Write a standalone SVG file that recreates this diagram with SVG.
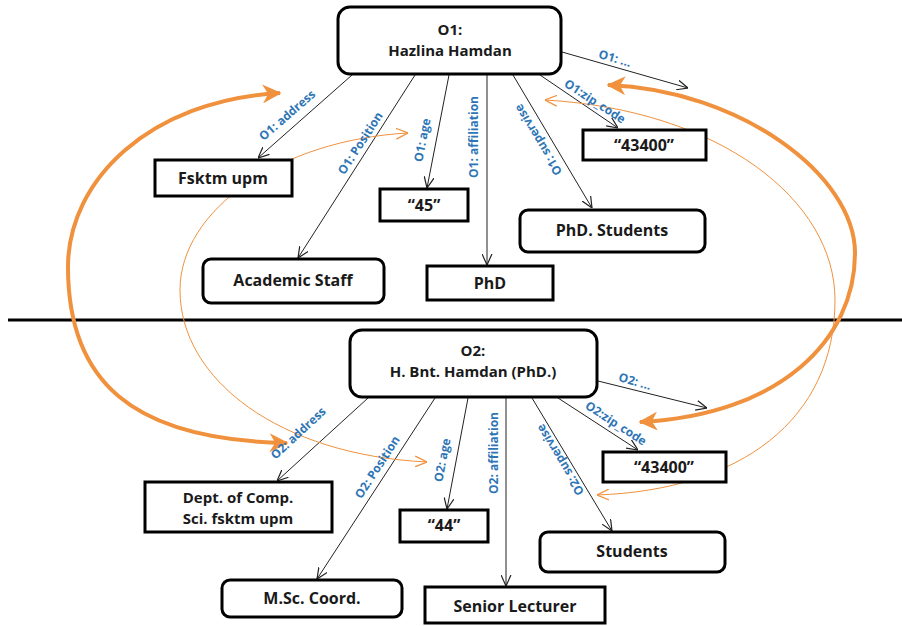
<svg xmlns="http://www.w3.org/2000/svg" width="902" height="626" viewBox="0 0 902 626">
<style>
.box{fill:#fff;stroke:#000;stroke-width:3}
.t{font-family:"Open Sans",Lato,"Liberation Sans",sans-serif;font-weight:bold;font-size:16px;fill:#1a1a1a;text-anchor:middle}
.t2{font-size:15px}
.lbl{font-family:"Open Sans",Lato,"Liberation Sans",sans-serif;font-weight:bold;font-size:12px;fill:#2E75B6;text-anchor:middle;dominant-baseline:central}
.c{fill:none;stroke:#222;stroke-width:1}
.ot{fill:none;stroke:#F0913E;stroke-width:4}
.on{fill:none;stroke:#F0913E;stroke-width:1}
</style>
<defs>
<marker id="ah" viewBox="0 0 10 10" refX="10" refY="5" markerWidth="11" markerHeight="11" markerUnits="userSpaceOnUse" orient="auto"><path d="M0,0.5 L10,5 L0,9.5" fill="none" stroke="#222" stroke-width="1.1"/></marker>
<marker id="oh" viewBox="0 0 12 12" refX="11" refY="6" markerWidth="19" markerHeight="19" markerUnits="userSpaceOnUse" orient="auto-start-reverse"><path d="M0,0 L12,6 L0,12 L3.5,6 z" fill="#F0913E"/></marker>
<marker id="on" viewBox="0 0 10 10" refX="10" refY="5" markerWidth="12" markerHeight="12" markerUnits="userSpaceOnUse" orient="auto-start-reverse"><path d="M0,0.5 L10,5 L0,9.5" fill="none" stroke="#F0913E" stroke-width="1.1"/></marker>
</defs>
<rect width="902" height="626" fill="#fff"/>
<line x1="8" y1="320" x2="902" y2="320" stroke="#000" stroke-width="3"/>

<g id="connectors">
<line class="c" x1="352" y1="75" x2="258" y2="158" marker-end="url(#ah)"/>
<line class="c" x1="415" y1="75" x2="298" y2="258" marker-end="url(#ah)"/>
<line class="c" x1="449" y1="75" x2="427" y2="188" marker-end="url(#ah)"/>
<line class="c" x1="487" y1="75" x2="487" y2="265" marker-end="url(#ah)"/>
<line class="c" x1="513" y1="75" x2="592" y2="208" marker-end="url(#ah)"/>
<line class="c" x1="540" y1="75" x2="618" y2="128" marker-end="url(#ah)"/>
<line class="c" x1="562" y1="52" x2="688" y2="88" marker-end="url(#ah)"/>

<line class="c" x1="368" y1="398" x2="277" y2="481" marker-end="url(#ah)"/>
<line class="c" x1="435" y1="398" x2="317" y2="579" marker-end="url(#ah)"/>
<line class="c" x1="468" y1="398" x2="447" y2="509" marker-end="url(#ah)"/>
<line class="c" x1="506" y1="398" x2="506" y2="586" marker-end="url(#ah)"/>
<line class="c" x1="532" y1="398" x2="612" y2="531" marker-end="url(#ah)"/>
<line class="c" x1="558" y1="398" x2="638" y2="450" marker-end="url(#ah)"/>
<line class="c" x1="598" y1="381" x2="707" y2="408" marker-end="url(#ah)"/>

<path class="ot" d="M280,93 C150,100 68,180 68,267 C68,380 130,440 287,443" marker-start="url(#oh)" marker-end="url(#oh)"/>
<path class="ot" d="M608,85 C740,90 855,175 855,253 C855,340 780,415 640,422" marker-start="url(#oh)" marker-end="url(#oh)"/>
<path class="on" d="M408,133 C280,140 180,210 180,290 C180,380 280,455 427,462" marker-start="url(#on)" marker-end="url(#on)"/>
<path class="on" d="M545,100 C720,110 835,200 835,300 C835,420 740,490 597,495" marker-start="url(#on)" marker-end="url(#on)"/>

<text class="lbl" transform="translate(287,115) rotate(-41)">O1: address</text>
<text class="lbl" transform="translate(360,143) rotate(-57)">O1: Position</text>
<text class="lbl" transform="translate(422,140) rotate(-79)">O1: age</text>
<text class="lbl" transform="translate(473,137) rotate(-90)">O1: affiliation</text>
<text class="lbl" transform="translate(538,140) rotate(-121)">O1: supervise</text>
<text class="lbl" transform="translate(595,101) rotate(33)">O1:zip_code</text>
<text class="lbl" transform="translate(615,58) rotate(16)">O1: ...</text>

<text class="lbl" transform="translate(298,433) rotate(-43)">O2: address</text>
<text class="lbl" transform="translate(377,467) rotate(-57)">O2: Position</text>
<text class="lbl" transform="translate(442,460) rotate(-79)">O2: age</text>
<text class="lbl" transform="translate(493,453) rotate(-90)">O2: affiliation</text>
<text class="lbl" transform="translate(560,460) rotate(-121)">O2: supervise</text>
<text class="lbl" transform="translate(616,423) rotate(33)">O2:zip_code</text>
<text class="lbl" transform="translate(635,381) rotate(16)">O2: ...</text>
</g>

<g id="o1"><rect class="box" x="338" y="7" width="223" height="67" rx="12"/><text class="t t2" x="450" y="35">O1:</text><text class="t t2" x="450" y="56">Hazlina Hamdan</text></g>
<g id="fsktm"><rect class="box" x="155" y="160" width="137" height="36"/><text class="t" x="223" y="184">Fsktm upm</text></g>
<g id="academic"><rect class="box" x="203" y="259" width="181" height="44" rx="8"/><text class="t" x="293" y="286">Academic Staff</text></g>
<g id="age45"><rect class="box" x="380" y="189" width="88" height="32"/><text class="t" x="424" y="211">“45”</text></g>
<g id="phd"><rect class="box" x="427" y="266" width="126" height="34"/><text class="t" x="490" y="289">PhD</text></g>
<g id="zip1"><rect class="box" x="583" y="130" width="123" height="30"/><text class="t" x="644" y="151">“43400”</text></g>
<g id="phdstudents"><rect class="box" x="520" y="210" width="185" height="42" rx="8"/><text class="t" x="612" y="236">PhD. Students</text></g>

<g id="o2"><rect class="box" x="350" y="330" width="247" height="67" rx="12"/><text class="t t2" x="473" y="356">O2:</text><text class="t t2" x="473" y="377">H. Bnt. Hamdan (PhD.)</text></g>
<g id="dept"><rect class="box" x="145" y="482" width="187" height="50"/><text class="t t2" x="238" y="503">Dept. of Comp.</text><text class="t t2" x="238" y="524">Sci. fsktm upm</text></g>
<g id="age44"><rect class="box" x="400" y="510" width="88" height="32"/><text class="t" x="444" y="531">“44”</text></g>
<g id="msc"><rect class="box" x="222" y="580" width="180" height="37" rx="8"/><text class="t" x="312" y="604">M.Sc. Coord.</text></g>
<g id="senior"><rect class="box" x="425" y="587" width="180" height="36"/><text class="t" x="515" y="612">Senior Lecturer</text></g>
<g id="students"><rect class="box" x="540" y="532" width="185" height="40" rx="8"/><text class="t" x="632" y="557">Students</text></g>
<g id="zip2"><rect class="box" x="603" y="452" width="123" height="30"/><text class="t" x="664" y="473">“43400”</text></g>
</svg>
